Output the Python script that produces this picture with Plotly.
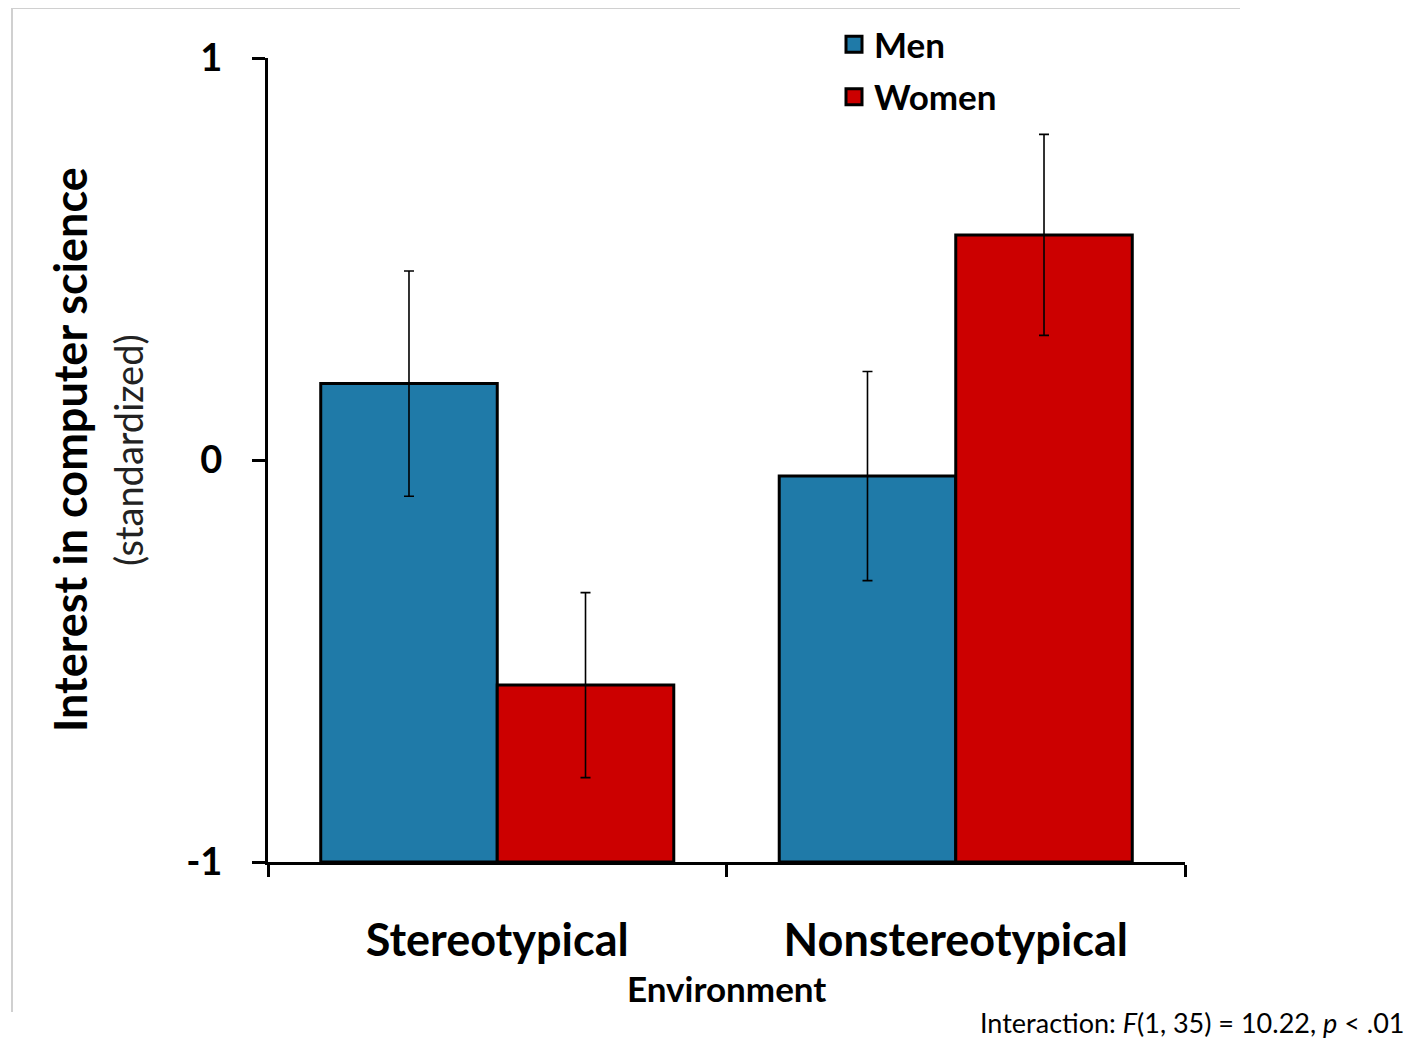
import plotly.graph_objects as go

categories = ["Stereotypical", "Nonstereotypical"]
men_values = [0.19, -0.04]
men_errors = [0.28, 0.26]
women_values = [-0.56, 0.56]
women_errors = [0.23, 0.25]
y_ticks = [-1, 0, 1]
y_tick_labels = ["-1", "0", "1"]

BASE = -1
FONT = "Lato, 'Open Sans', sans-serif"
MEN_COLOR = "#1F7AA8"
WOMEN_COLOR = "#CC0000"

fig = go.Figure()
fig.add_trace(go.Bar(
    name="Men", x=categories, y=[v - BASE for v in men_values], base=BASE,
    marker=dict(color=MEN_COLOR, line=dict(color="black", width=3)),
    error_y=dict(type="data", array=men_errors, color="black", thickness=1.6, width=5),
    showlegend=False,
))
fig.add_trace(go.Bar(
    name="Women", x=categories, y=[v - BASE for v in women_values], base=BASE,
    marker=dict(color=WOMEN_COLOR, line=dict(color="black", width=3)),
    error_y=dict(type="data", array=women_errors, color="black", thickness=1.6, width=5),
    showlegend=False,
))
# legend entries (square swatches)
for name, col, grp in [("Men", MEN_COLOR, "m"), ("Women", WOMEN_COLOR, "w")]:
    fig.add_trace(go.Scatter(
        name=name, x=[None], y=[None], mode="markers",
        marker=dict(symbol="square", size=16, color=col, line=dict(color="black", width=3)),
        legendgroup=grp, showlegend=True,
    ))

OFF = 8  # page body margin
PL, PR, PT, PB = 268, 1185, 58, 862  # plot area in page pixels
FW, FH = 1414 - OFF, 1039 - OFF
W, H = PR - PL, PB - PT

def px(x):
    return (x - PL) / W

def py(y):
    return (PB - y) / H

fig.update_layout(
    width=FW, height=FH,
    margin=dict(l=PL - OFF, r=FW - (PR - OFF), t=PT - OFF, b=FH - (PB - OFF), pad=0,
                autoexpand=False),
    paper_bgcolor="white", plot_bgcolor="white",
    barmode="group", bargap=0.23, bargroupgap=0,
    font=dict(family=FONT, color="black"),
    showlegend=True,
    legend=dict(
        x=px(834), y=py(15), xanchor="left", yanchor="top",
        font=dict(size=35, family=FONT, color="black", weight="bold"),
        traceorder="grouped", tracegroupgap=4,
        itemwidth=30, bgcolor="rgba(0,0,0,0)",
    ),
    xaxis=dict(
        showline=True, linecolor="black", linewidth=3,
        ticks="outside", tickson="boundaries", ticklen=12, tickwidth=3, tickcolor="black",
        tickfont=dict(size=45, family=FONT, color="black", weight="bold"),
        ticklabelstandoff=37, automargin=False,
        showgrid=False, zeroline=False,
    ),
    yaxis=dict(
        range=[-1, 1], tickvals=y_ticks, ticktext=y_tick_labels,
        showline=True, linecolor="black", linewidth=3,
        ticks="outside", ticklen=13, tickwidth=3, tickcolor="black",
        tickfont=dict(size=38, family=FONT, color="black", weight="bold"),
        ticklabelstandoff=22, automargin=False,
        showgrid=False, zeroline=False,
    ),
    annotations=[
        dict(text="Environment", x=0.5, y=py(988), xref="paper", yref="paper",
             xanchor="center", yanchor="middle",
             showarrow=False, font=dict(size=35, family=FONT, color="black", weight="bold")),
        dict(text="Interest in computer science", x=px(70), y=py(450), xref="paper", yref="paper",
             xanchor="center", yanchor="middle",
             textangle=-90, showarrow=False,
             font=dict(size=45, family=FONT, color="black", weight="bold")),
        dict(text="(standardized)", x=px(128), y=py(450), xref="paper", yref="paper",
             xanchor="center", yanchor="middle",
             textangle=-90, showarrow=False,
             font=dict(size=38, family=FONT, color="#222222")),
        dict(text="Interaction: <i>F</i>(1, 35) = 10.22, <i>p</i> < .01",
             x=px(1406), y=py(1022), xref="paper", yref="paper",
             xanchor="right", yanchor="middle",
             showarrow=False, font=dict(size=27, family=FONT, color="black")),
    ],
    shapes=[
        dict(type="line", xref="paper", yref="paper", x0=px(12), x1=px(1240), y0=py(8), y1=py(8),
             line=dict(color="#d0d0d0", width=2)),
        dict(type="line", xref="paper", yref="paper", x0=px(12), x1=px(12), y0=py(8), y1=py(1012),
             line=dict(color="#d0d0d0", width=2)),
    ],
)

fig.write_html("out.html")
